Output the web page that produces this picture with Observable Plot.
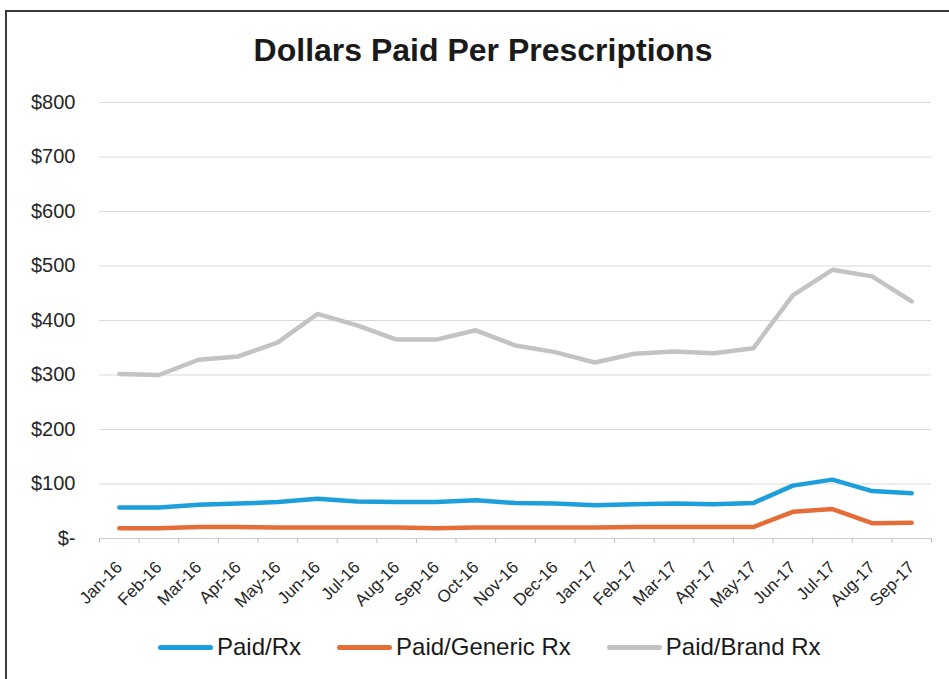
<!DOCTYPE html>
<html>
<head>
<meta charset="utf-8">
<script src="https://cdn.jsdelivr.net/npm/d3@7"></script>
<script src="https://cdn.jsdelivr.net/npm/@observablehq/plot@0.6"></script>
<style>
  html, body { margin: 0; padding: 0; background: #fff; overflow: hidden; }
  #wrap { position: relative; width: 949px; height: 679px; overflow: hidden; font-family: "Liberation Sans", Arial, sans-serif; }
  #border { position: absolute; left: 5px; top: 10px; width: 1000px; height: 800px; border-top: 2px solid #3a3a3a; border-left: 2px solid #3a3a3a; box-sizing: border-box; }
  #title { position: absolute; left: 0; top: 34px; width: 966px; text-align: center; font-weight: bold; font-size: 32px; line-height: 32px; color: #1a1a1a; }
  #chart { position: absolute; left: 0; top: 0; }
  #legend { position: absolute; left: 158px; top: 632px; display: flex; align-items: center; font-size: 24px; line-height: 30px; color: #1a1a1a; }
  .item { display: flex; align-items: center; margin-right: 36px; }
  .sw { display: inline-block; width: 55px; height: 5px; border-radius: 3px; margin-right: 4px; }
</style>
</head>
<body>
<div id="wrap">
  <div id="border"></div>
  <div id="chart"></div>
  <div id="title">Dollars Paid Per Prescriptions</div>
  <div id="legend"></div>
</div>
<script>
const months = ["Jan-16","Feb-16","Mar-16","Apr-16","May-16","Jun-16","Jul-16","Aug-16","Sep-16","Oct-16","Nov-16","Dec-16",
                "Jan-17","Feb-17","Mar-17","Apr-17","May-17","Jun-17","Jul-17","Aug-17","Sep-17"];
const paidRx      = [57, 57, 62, 64, 67, 73, 68, 67, 67, 70, 65, 64, 61, 63, 64, 63, 65, 97, 108, 87, 83];
const paidGeneric = [19, 19, 21, 21, 20, 20, 20, 20, 19, 20, 20, 20, 20, 21, 21, 21, 21, 49, 54, 28, 29];
const paidBrand   = [302, 300, 328, 334, 360, 412, 391, 365, 365, 382, 354, 342, 323, 339, 343, 340, 349, 446, 493, 481, 435];
const seriesNames = ["Paid/Rx", "Paid/Generic Rx", "Paid/Brand Rx"];
const seriesColors = ["#1d9fdb", "#e56d38", "#c3c3c3"];
const yTicks = [0, 100, 200, 300, 400, 500, 600, 700, 800];

const seriesValues = [paidRx, paidGeneric, paidBrand];
const rows = [];
seriesNames.forEach((s, k) => seriesValues[k].forEach((v, i) => rows.push({i, month: months[i], series: s, value: v})));
const order = [2, 1, 0]; // draw brand first, blue on top

const idx = months.map((_, i) => i);
const bounds = d3.range(-0.5, months.length, 1);

const plot = Plot.plot({
  width: 949,
  height: 679,
  marginTop: 102,
  marginBottom: 141,
  marginLeft: 99,
  marginRight: 18,
  style: {fontFamily: "'Liberation Sans', Arial, sans-serif", background: "transparent", color: "#262626"},
  x: {type: "linear", domain: [-0.5, months.length - 0.5]},
  y: {domain: [0, 800]},
  color: {domain: seriesNames, range: seriesColors},
  marks: [
    Plot.gridY(yTicks.filter(d => d > 0), {stroke: "#d9d9d9", strokeOpacity: 1, strokeWidth: 1}),
    Plot.ruleY([0], {stroke: "#cfcfcf", strokeWidth: 1.2}),
    Plot.axisY({ticks: yTicks, tickSize: 0, tickPadding: 24, fontSize: 20, label: null,
                tickFormat: d => d === 0 ? "$-" : "$" + d, fill: "#262626"}),
    Plot.axisX({ticks: bounds, tickSize: 5, tickFormat: () => "", label: null, stroke: "#bfbfbf"}),
    Plot.axisX({ticks: idx, tickSize: 0, tickPadding: 26, tickRotate: -45, fontSize: 17, label: null,
                tickFormat: i => months[i], fill: "#262626"}),
    ...order.map(k => Plot.line(rows.filter(r => r.series === seriesNames[k]), {
      x: "i", y: "value", stroke: "series", strokeWidth: 4.5, strokeLinejoin: "round", strokeLinecap: "round"
    }))
  ]
});
document.getElementById("chart").appendChild(plot);

const legend = document.getElementById("legend");
seriesNames.forEach((s, k) => {
  const item = document.createElement("div");
  item.className = "item";
  const sw = document.createElement("span");
  sw.className = "sw";
  sw.style.background = seriesColors[k];
  const tx = document.createElement("span");
  tx.textContent = s;
  item.appendChild(sw);
  item.appendChild(tx);
  legend.appendChild(item);
});
</script>
</body>
</html>
